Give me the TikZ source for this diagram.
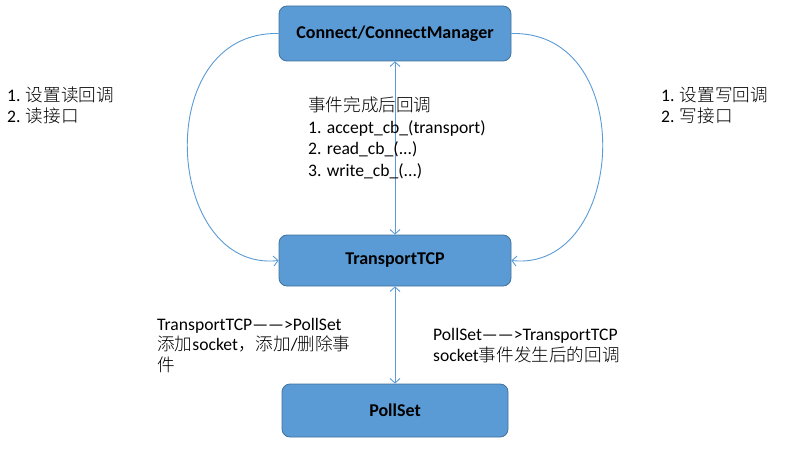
\documentclass[tikz,border=0pt]{standalone}
\usepackage{fontspec}
\setmainfont{Carlito}
\newfontfamily\cjk{Noto Sans CJK SC Light}
\usetikzlibrary{arrows.meta}
\definecolor{boxfill}{HTML}{5B9BD5}
\definecolor{boxline}{HTML}{41719C}
\definecolor{linecol}{HTML}{5B9BD5}
\tikzset{
  box/.style={draw=boxline, line width=0.8pt, fill=boxfill, rounded corners=8pt,
    font=\fontsize{18}{21}\selectfont\bfseries, text=black, inner sep=0pt},
  conn/.style={draw=linecol, line width=0.9pt},
  tip/.tip={Straight Barb[length=4.5pt,width=10pt,line width=0.9pt]},
  lbl/.style={anchor=base west, align=left, inner sep=0pt, text=black,
    font=\fontsize{17.6}{21}\selectfont},
}
\begin{document}
\begin{tikzpicture}[x=1pt,y=-1pt]
\useasboundingbox (0,0) rectangle (789,449);
\node[box, minimum width=232pt, minimum height=55pt] (c) at (395,33.5) {Connect/ConnectManager};
\node[box, minimum width=232pt, minimum height=51pt] (t) at (395,260.5) {TransportTCP};
\node[box, minimum width=226pt, minimum height=53pt] (p) at (395,410.5) {PollSet};

\draw[conn,-{tip}] (c.west) .. controls +(-129,-3) and +(-114,12) .. (t.west);
\draw[conn,-{tip}] (c.east) .. controls +(129,-3) and +(114,12) .. (t.east);
\draw[conn,{tip}-{tip}] (c.south) -- (t.north);
\draw[conn,{tip}-{tip}] (t.south) -- (p.north);

\node[lbl] (l1) at (7,123) {1. {\cjk 设置读回调}\\2. {\cjk 读接口}};
\node[lbl] (l2) at (661,123) {1. {\cjk 设置写回调}\\2. {\cjk 写接口}};
\node[lbl, font=\fontsize{17.6}{21.5}\selectfont] (l3) at (308,176) {{\cjk 事件完成后回调}\\1. accept\_cb\_(transport)\\2. read\_cb\_(...)\\3. write\_cb\_(...)};
\node[lbl, font=\fontsize{17.6}{20.5}\selectfont] (l4) at (157,371) {TransportTCP——>PollSet\\{\cjk 添加}socket{\cjk ，添加}/{\cjk 删除事}\\{\cjk 件}};
\node[lbl, font=\fontsize{17.6}{20.5}\selectfont] (l5) at (433,361) {PollSet——>TransportTCP\\socket{\cjk 事件发生后的回调}};
\end{tikzpicture}
\end{document}
